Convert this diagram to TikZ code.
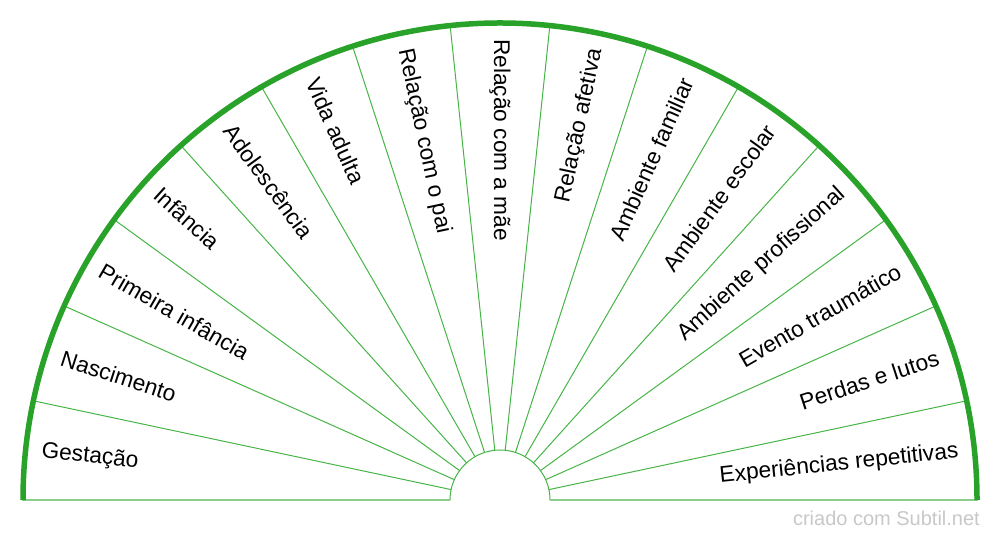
\documentclass[tikz,border=0pt]{standalone}
\usepackage{fontspec}
\setmainfont{Liberation Sans}
\definecolor{arcgreen}{RGB}{40,162,40}
\definecolor{linegreen}{RGB}{70,180,70}
\definecolor{basegreen}{RGB}{140,205,140}
\definecolor{markgray}{RGB}{200,200,200}
\begin{document}
\begin{tikzpicture}[x=1pt,y=1pt,
  lbl/.style={font=\fontsize{22.7}{26}\selectfont, inner sep=0pt, text=black},
  spoke/.style={linegreen, line width=1pt},
  rim/.style={arcgreen, line width=5.5pt},
  baseline/.style={basegreen, line width=2pt}]
\useasboundingbox (0,0) rectangle (1000,540);
\coordinate (O) at (500,40);
% spokes
\foreach \a in {12,24,...,168}
  \draw[spoke] (O) ++(\a:50) -- ++(\a:427);
% inner semicircle
\draw[spoke] (550,40) arc (0:180:50);
% base line
\draw[baseline] (22,40) -- (450,40) (550,40) -- (978,40);
% outer rim
\draw[rim] (977,40) arc (0:180:477);
% left labels
\foreach \t [count=\i] in {Gestação,Nascimento,Primeira infância,Infância,Adolescência,Vida adulta,Relação com o pai,Relação com a mãe}{
  \pgfmathsetmacro\ang{186-12*\i}
  \pgfmathsetmacro\rot{\ang-180}
  \path (O) ++(\ang:461) node[lbl, anchor=west, rotate=\rot] (L\i) {\t};
}
% right labels
\foreach \t [count=\i] in {Experiências repetitivas,Perdas e lutos,Evento traumático,Ambiente profissional,Ambiente escolar,Ambiente familiar,Relação afetiva}{
  \pgfmathsetmacro\ang{-6+12*\i}
  \path (O) ++(\ang:461) node[lbl, anchor=east, rotate=\ang] (R\i) {\t};
}
\node[font=\fontsize{20}{24}\selectfont, text=markgray, anchor=base east, inner sep=0pt] (mark) at (980,14) {criado com Subtil.net};
\end{tikzpicture}
\end{document}
